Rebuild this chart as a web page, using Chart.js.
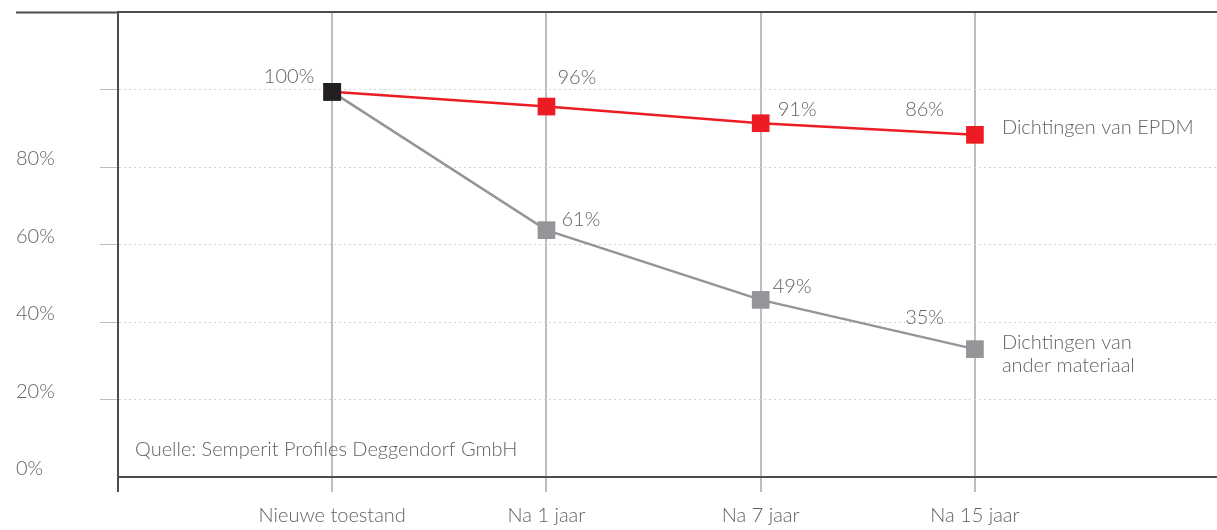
<!DOCTYPE html>
<html>
<head>
<meta charset="utf-8">
<script src="https://cdn.jsdelivr.net/npm/chart.js@4.4.1/dist/chart.umd.min.js"></script>
<style>
  html, body { margin: 0; padding: 0; background: #fff; overflow: hidden; }
  #wrap { width: 1217px; height: 530px; }
  canvas { display: block; }
</style>
</head>
<body>
<div id="wrap"><canvas id="chart" width="1217" height="530"></canvas></div>
<script>
// values (marker positions), printed labels kept apart
const categories = ['Nieuwe toestand', 'Na 1 jaar', 'Na 7 jaar', 'Na 15 jaar'];
const epdmValues = [99.4, 95.6, 91.3, 88.3];
const otherValues = [99.4, 63.7, 45.7, 33.0];
const epdmLabels = ['100%', '96%', '91%', '86%'];
const otherLabels = ['', '61%', '49%', '35%'];
const seriesNames = [['Dichtingen van EPDM'], ['Dichtingen van', 'ander materiaal']];
const yTickValues = [0, 20, 40, 60, 80];
const sourceNote = 'Quelle: Semperit Profiles Deggendorf GmbH';

const RED = '#ed1c24';
const GREY = '#939598';
const BLACK = '#231f20';
const DARK = '#4d4d4f';
const TEXT = '#616265';
const FONT_FAMILY = 'Lato, "Open Sans", sans-serif';
const FONT = '300 20px ' + FONT_FAMILY;

function toPoints(values) {
    return values.map((v, i) => ({ x: i, y: v }));
}

// label offsets relative to each marker: [dx, dy, align]
const labelOffsets = [
    [[-18, -15, 'right'], [11, -29, 'left'], [17, -14, 'left'], [-31, -25, 'right']],
    [null, [15, -11, 'left'], [12, -13, 'left'], [-31, -32, 'right']]
];

const textPlugin = {
    id: 'textPlugin',
    afterDatasetsDraw(chart) {
        const ctx = chart.ctx;
        const area = chart.chartArea;
        const labelSets = [epdmLabels, otherLabels];
        ctx.save();
        ctx.font = FONT;
        ctx.fillStyle = TEXT;
        ctx.textBaseline = 'middle';

        labelSets.forEach((labels, d) => {
            const meta = chart.getDatasetMeta(d);
            meta.data.forEach((pt, i) => {
                const off = labelOffsets[d][i];
                if (!off || !labels[i]) return;
                ctx.textAlign = off[2];
                ctx.fillText(labels[i], pt.x + off[0], pt.y + off[1]);
            });
            // series name next to the last marker
            const last = meta.data[meta.data.length - 1];
            ctx.textAlign = 'left';
            seriesNames[d].forEach((line, k) => {
                ctx.fillText(line, last.x + 27, last.y - 7 + k * 23);
            });
        });

        ctx.textAlign = 'left';
        ctx.fillText(sourceNote, area.left + 17, area.bottom - 27);
        ctx.restore();
    }
};

const ctx = document.getElementById('chart').getContext('2d');
new Chart(ctx, {
    type: 'line',
    data: {
        datasets: [
            {
                label: seriesNames[0].join(' '),
                data: toPoints(epdmValues),
                borderColor: RED,
                borderWidth: 2.5,
                pointStyle: 'rect',
                pointRadius: 12.5,
                pointBorderWidth: 0,
                pointBackgroundColor: epdmValues.map((v, i) => i === 0 ? BLACK : RED),
                order: 1
            },
            {
                label: seriesNames[1].join(' '),
                data: toPoints(otherValues),
                borderColor: GREY,
                borderWidth: 2.5,
                pointStyle: 'rect',
                pointRadius: 12.5,
                pointBorderWidth: 0,
                pointBackgroundColor: otherValues.map((v, i) => i === 0 ? BLACK : GREY),
                order: 2
            }
        ]
    },
    options: {
        responsive: false,
        animation: false,
        layout: { autoPadding: false, padding: { left: 16, top: 12, right: 0, bottom: 0 } },
        plugins: {
            legend: { display: false },
            tooltip: { enabled: false }
        },
        scales: {
            x: {
                type: 'linear',
                min: -1,
                max: 4.13,
                afterBuildTicks: s => { s.ticks = [-1, 0, 1, 2, 3].map(v => ({ value: v })); },
                afterFit: s => { s.height = 53; s.paddingLeft = 0; s.paddingRight = 0; },
                ticks: {
                    padding: 12,
                    color: TEXT,
                    font: { family: FONT_FAMILY, size: 20, weight: 300 },
                    maxRotation: 0,
                    autoSkip: false,
                    callback: v => categories[v] || ''
                },
                grid: {
                    color: c => c.tick && c.tick.value === -1 ? DARK : '#bcbec0',
                    tickColor: c => c.tick && c.tick.value === -1 ? DARK : '#bcbec0',
                    lineWidth: 2,
                    tickWidth: 2,
                    tickLength: 15
                },
                border: { color: DARK, width: 2 }
            },
            x2: {
                type: 'linear',
                position: 'top',
                min: 0,
                max: 1,
                afterFit: s => { s.height = 0; s.paddingLeft = 0; s.paddingRight = 0; },
                ticks: { display: false },
                grid: { display: false },
                border: { color: DARK, width: 2 }
            },
            y: {
                min: 0,
                max: 120,
                afterBuildTicks: s => { s.ticks = yTickValues.concat([100, 120]).map(v => ({ value: v })); },
                afterFit: s => { s.width = 102; s.paddingTop = 0; s.paddingBottom = 0; },
                ticks: {
                    crossAlign: 'far',
                    labelOffset: -8,
                    color: TEXT,
                    font: { family: FONT_FAMILY, size: 20, weight: 300 },
                    callback: v => yTickValues.includes(v) ? v + '%' : ''
                },
                grid: {
                    color: c => c.tick && c.tick.value === 120 ? 'rgba(0,0,0,0)' : '#d1d3d4',
                    lineWidth: 1,
                    tickLength: 102,
                    tickWidth: c => c.tick && c.tick.value === 120 ? 2 : 1,
                    tickColor: c => {
                        if (!c.tick) return '#bcbec0';
                        if (c.tick.value === 120) return DARK;
                        if (c.tick.value === 0) return 'rgba(0,0,0,0)';
                        return '#bcbec0';
                    },
                    tickBorderDash: c => c.tick && c.tick.value === 120 ? [] : [0, 84, 18, 0]
                },
                border: { color: DARK, width: 2, dash: [2, 3] }
            }
        }
    },
    plugins: [textPlugin]
});
</script>
</body>
</html>
